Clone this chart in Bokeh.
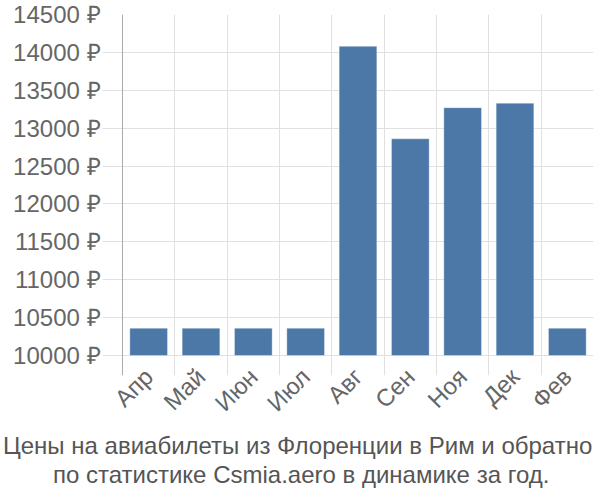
import math
from bokeh.plotting import figure
from bokeh.models import Range1d, FixedTicker, Span, Title, ColumnDataSource
from bokeh.embed import file_html
from bokeh.resources import INLINE

months = ["Апр", "Май", "Июн", "Июл", "Авг", "Сен", "Ноя", "Дек", "Фев"]
prices = [10360, 10360, 10360, 10360, 14080, 12860, 13270, 13330, 10360]
y_ticks = [10000, 10500, 11000, 11500, 12000, 12500, 13000, 13500, 14000, 14500]
title_lines = ["Цены на авиабилеты из Флоренции в Рим и обратно",
               "по статистике Csmia.aero в динамике за год."]

FONT = "Liberation Sans"
xs = [i + 0.5 for i in range(len(months))]
src = ColumnDataSource(dict(x=xs, top=prices, month=months))

p = figure(width=600, height=500, output_backend="svg", toolbar_location=None,
           x_range=Range1d(-0.382, len(months)), y_range=Range1d(9736, 14500),
           min_border_left=102, min_border_right=7, min_border_top=14, min_border_bottom=125)
p.outline_line_color = None
p.background_fill_color = "white"

p.vbar(x="x", top="top", bottom=10000, width=0.72, source=src,
       fill_color="#4c78a8", line_color="#ffffff", line_alpha=0.35, line_width=1)

# x axis
p.xaxis.ticker = FixedTicker(ticks=xs)
p.xaxis.major_label_overrides = {x: m for x, m in zip(xs, months)}
p.xaxis.axis_line_color = None
p.xaxis.major_tick_line_color = None
p.xaxis.minor_tick_line_color = None
p.xaxis.major_tick_out = 0
p.xaxis.minor_tick_out = 0
p.xaxis.major_label_orientation = math.pi / 4
p.xaxis.major_label_standoff = -3
p.xaxis.major_label_text_font = FONT
p.xaxis.major_label_text_font_size = "24px"
p.xaxis.major_label_text_color = "#666666"

# y axis
p.yaxis.ticker = FixedTicker(ticks=y_ticks)
p.yaxis.major_label_overrides = {t: f"{t} ₽" for t in y_ticks}
p.yaxis.axis_line_color = None
p.yaxis.major_tick_line_color = None
p.yaxis.minor_tick_line_color = None
p.yaxis.major_tick_out = 0
p.yaxis.major_label_standoff = 2
p.yaxis.major_label_text_font = FONT
p.yaxis.major_label_text_font_size = "24px"
p.yaxis.major_label_text_color = "#666666"

# grids
p.xgrid.ticker = FixedTicker(ticks=list(range(1, len(months) + 1)))
p.xgrid.grid_line_color = "#e0e0e0"
p.ygrid.grid_line_color = "#e0e0e0"
p.add_layout(Span(location=0, dimension="height", line_color="#aaaaaa", line_width=1))

# two-line caption, placed so that it is centred on the whole canvas
for line, off in zip(title_lines, [-99.5, -49.5]):
    p.add_layout(Title(text=line, align="left", offset=off, standoff=0,
                       text_font=FONT, text_font_size="24px",
                       text_font_style="normal", text_color="#555555"), "below")

open("out.html", "w").write(file_html(p, INLINE))
